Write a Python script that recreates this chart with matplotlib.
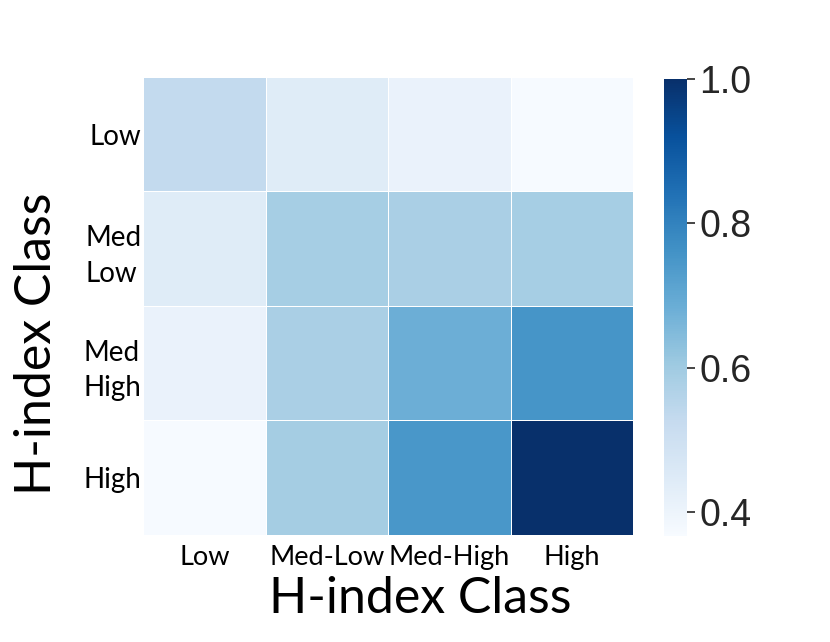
import numpy as np
import matplotlib.pyplot as plt
from matplotlib.colors import Normalize

# H-index class confusion / similarity matrix
row_labels = ['Low', 'Med\nLow', 'Med\nHigh', 'High']
col_labels = ['Low', 'Med-Low', 'Med-High', 'High']
row_low = [0.532, 0.443, 0.410, 0.370]
row_medlow = [0.443, 0.588, 0.582, 0.588]
row_medhigh = [0.410, 0.582, 0.683, 0.753]
row_high = [0.370, 0.590, 0.750, 1.000]
vmin, vmax = 0.367, 1.0
cbar_ticks = [0.4, 0.6, 0.8, 1.0]

values = np.array([row_low, row_medlow, row_medhigh, row_high])

label_font = 'Lato'
fig = plt.figure(figsize=(8.3, 6.42), dpi=100)
ax = fig.add_axes([0.1723, 0.1667, 0.5904, 0.7134])
cax = fig.add_axes([0.800, 0.1651, 0.0277, 0.7118])

norm = Normalize(vmin=vmin, vmax=vmax)
mesh = ax.pcolormesh(values, cmap='Blues', norm=norm,
                     edgecolors='white', linewidth=0.6)
ax.set_xlim(0, 4)
ax.set_ylim(4, 0)
ax.set_xticks(np.arange(4) + 0.5)
ax.set_yticks(np.arange(4) + 0.5)
ax.set_xticklabels(col_labels, fontsize=19.5, family=label_font)
ax.set_yticklabels(row_labels, fontsize=20, family=label_font,
                   rotation=0, multialignment='left', linespacing=1.45)
ax.tick_params(axis='x', length=0, pad=7)
ax.tick_params(axis='y', length=0, pad=1)
for s in ax.spines.values():
    s.set_visible(False)
ax.set_xlabel('H-index Class', fontsize=36, family=label_font)
ax.set_ylabel('H-index Class', fontsize=36, family=label_font)
ax.xaxis.set_label_coords(0.565, -0.09)
ax.yaxis.set_label_coords(-0.17, 0.417)

cb = fig.colorbar(mesh, cax=cax, ticks=cbar_ticks)
cb.outline.set_visible(False)
cb.ax.set_yticklabels(['%.1f' % t for t in cbar_ticks])
cb.ax.tick_params(labelsize=27, length=6, width=1.2, color='#262626',
                  labelcolor='#262626', pad=3)
for lab in cb.ax.get_yticklabels():
    lab.set_family('Liberation Sans')

fig.savefig('out.png', dpi=100)
